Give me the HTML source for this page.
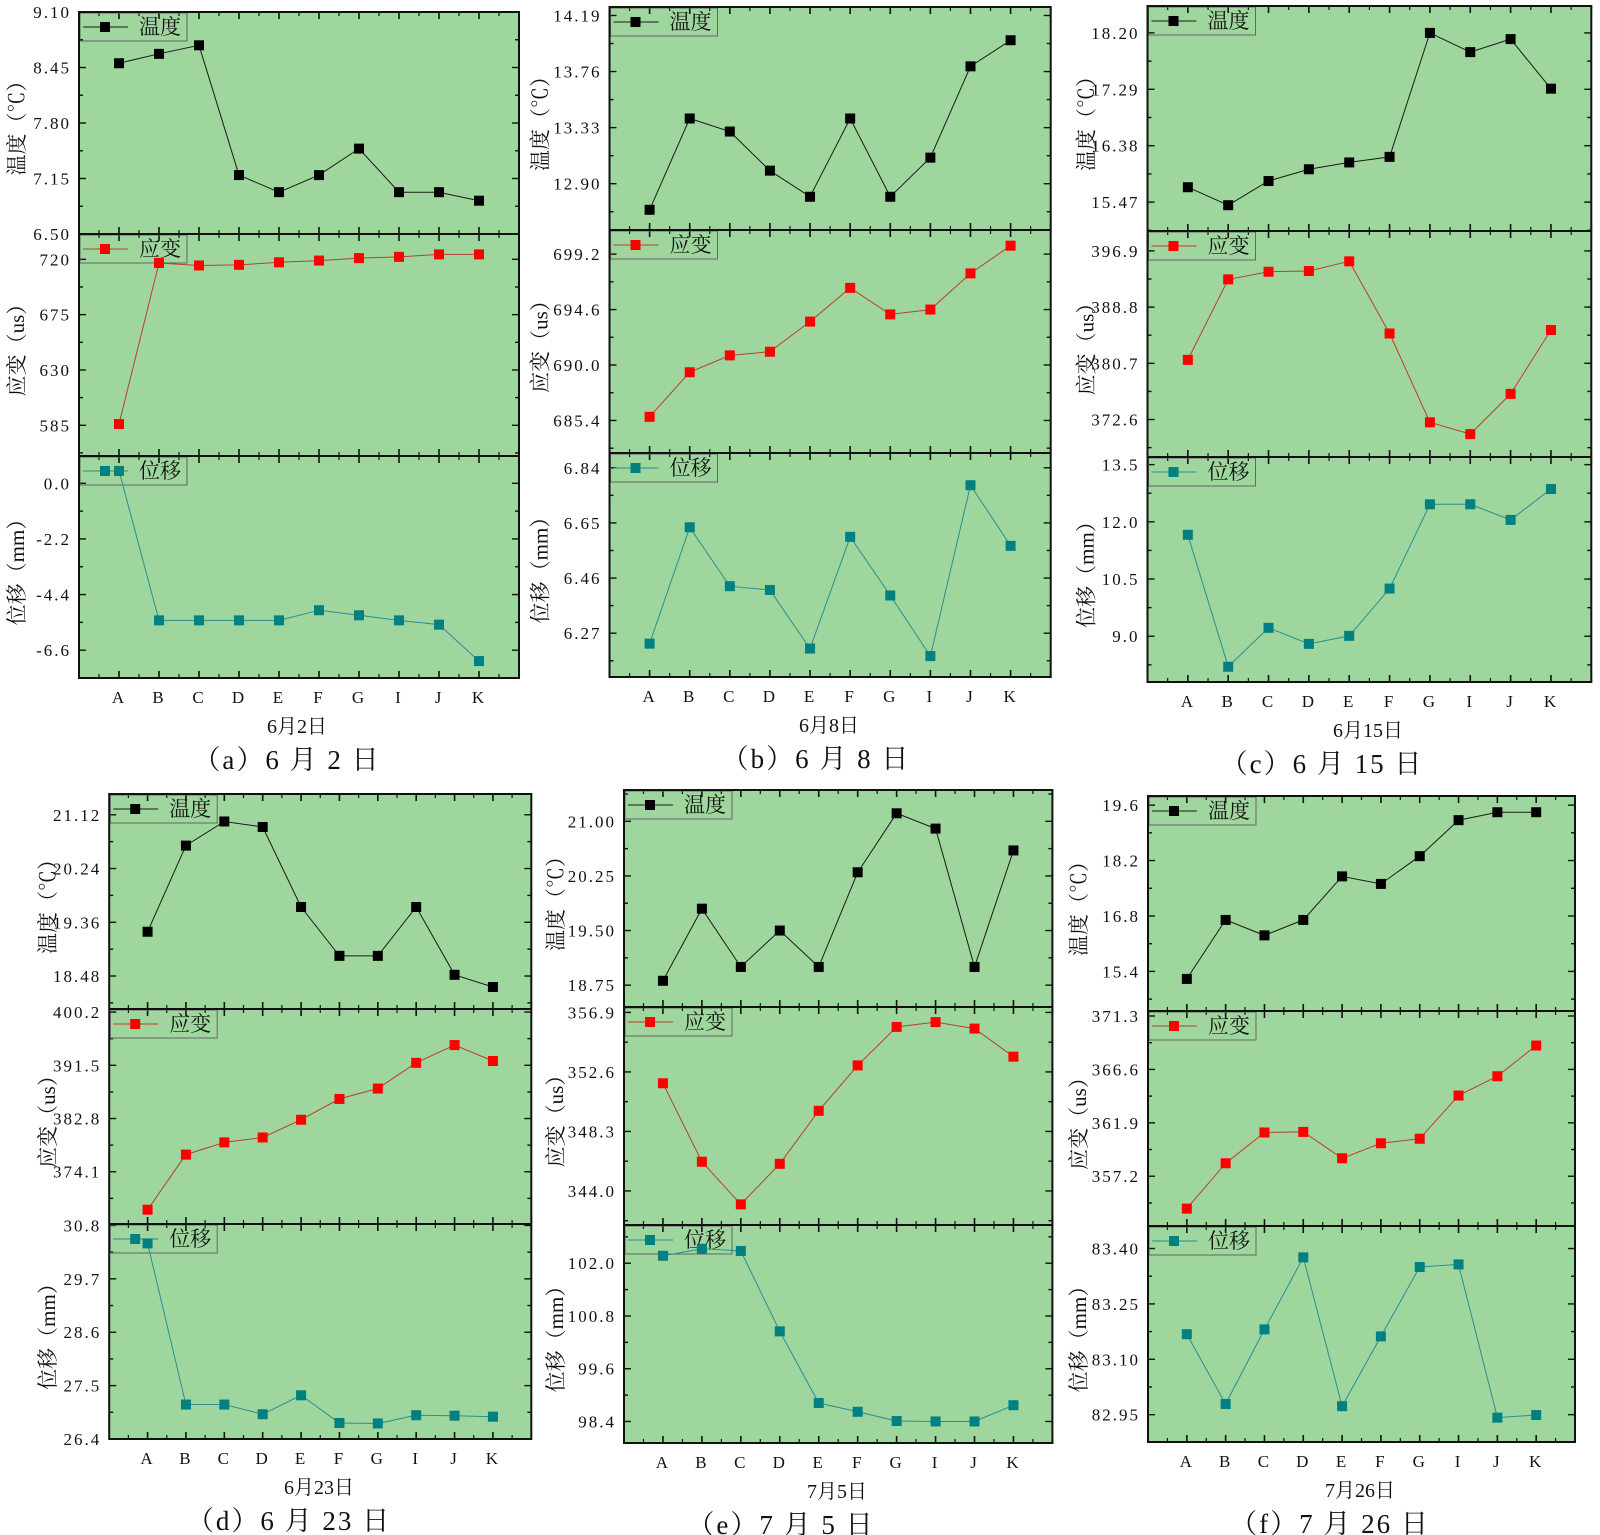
<!DOCTYPE html>
<html><head><meta charset="utf-8"><style>
html,body{margin:0;padding:0;background:#fff;}
svg{display:block;}
.tk{font-family:"Liberation Serif","Noto Serif CJK SC",serif;font-size:17px;fill:#111;letter-spacing:2px;}
.cj{font-family:"Liberation Serif","Noto Serif CJK SC",serif;fill:#111;}
</style></head><body>
<svg id="chart" width="1600" height="1535" viewBox="0 0 1600 1535" xmlns="http://www.w3.org/2000/svg"></svg>
<script>
const categories = ['A','B','C','D','E','F','G','I','J','K'];

const tempA = [8.50,8.61,8.71,7.19,6.99,7.19,7.50,6.99,6.99,6.89];
const strainA = [586,717,715,715.5,717.6,719,721,722,724,724];
const dispA = [0.49,-5.42,-5.42,-5.42,-5.42,-5.02,-5.22,-5.42,-5.59,-7.03];

const tempB = [12.70,13.40,13.30,13.00,12.80,13.40,12.80,13.10,13.80,14.00];
const strainB = [685.7,689.4,690.8,691.1,693.6,696.4,694.2,694.6,697.6,699.9];
const dispB = [6.234,6.635,6.432,6.419,6.217,6.602,6.400,6.191,6.780,6.571];

const tempC = [15.71,15.42,15.81,16.00,16.11,16.20,18.20,17.89,18.10,17.30];
const strainC = [381.2,392.8,393.9,394.0,395.4,385.0,372.2,370.5,376.3,385.5];
const dispC = [11.66,8.20,9.22,8.80,9.01,10.25,12.46,12.46,12.05,12.86];

const tempD = [19.205,20.615,21.01,20.92,19.61,18.81,18.81,19.61,18.50,18.30];
const strainD = [367.9,376.9,378.9,379.7,382.6,386.0,387.7,391.9,394.8,392.2];
const dispD = [30.43,27.11,27.11,26.91,27.30,26.73,26.72,26.89,26.88,26.86];

const tempE = [18.81,19.80,19.00,19.50,19.00,20.30,21.11,20.90,19.00,20.60];
const strainE = [351.78,346.11,343.03,345.96,349.79,353.07,355.85,356.2,355.73,353.7];
const dispE = [102.17,102.33,102.28,100.45,98.82,98.62,98.41,98.40,98.40,98.77];

const tempF = [15.21,16.70,16.31,16.70,17.80,17.61,18.31,19.22,19.42,19.42];
const strainF = [354.35,358.34,361.05,361.1,358.78,360.1,360.5,364.3,366.0,368.7];
const dispF = [83.168,82.979,83.181,83.376,82.973,83.162,83.350,83.357,82.942,82.949];

const tempTicksA = ['9.10','8.45','7.80','7.15','6.50'];
const strainTicksA = ['720','675','630','585'];
const dispTicksA = ['0.0','-2.2','-4.4','-6.6'];
const tempTicksB = ['14.19','13.76','13.33','12.90'];
const strainTicksB = ['699.2','694.6','690.0','685.4'];
const dispTicksB = ['6.84','6.65','6.46','6.27'];
const tempTicksC = ['18.20','17.29','16.38','15.47'];
const strainTicksC = ['396.9','388.8','380.7','372.6'];
const dispTicksC = ['13.5','12.0','10.5','9.0'];
const tempTicksD = ['21.12','20.24','19.36','18.48'];
const strainTicksD = ['400.2','391.5','382.8','374.1'];
const dispTicksD = ['30.8','29.7','28.6','27.5','26.4'];
const tempTicksE = ['21.00','20.25','19.50','18.75'];
const strainTicksE = ['356.9','352.6','348.3','344.0'];
const dispTicksE = ['102.0','100.8','99.6','98.4'];
const tempTicksF = ['19.6','18.2','16.8','15.4'];
const strainTicksF = ['371.3','366.6','361.9','357.2'];
const dispTicksF = ['83.40','83.25','83.10','82.95'];

const panels = [
 {id:'a',left:79,right:519,tops:[12,234,456,678],xl:'6月2日',cap:'（a）6 月 2 日',capx:287,xlx:297,tOff:-62,
  series:[[tempA,tempTicksA,[6.50,9.10]],[strainA,strainTicksA,[560,740.6]],[dispA,dispTicksA,[-7.70,1.08]]]},
 {id:'b',left:609.5,right:1050.7,tops:[7,230,453,677],xl:'6月8日',cap:'（b）6 月 8 日',capx:816,xlx:829,tOff:-69,
  series:[[tempB,tempTicksB,[12.545,14.255]],[strainB,strainTicksB,[682.7,701.2]],[dispB,dispTicksB,[6.119,6.891]]]},
 {id:'c',left:1147.5,right:1591.3,tops:[6,231,457,682],xl:'6月15日',cap:'（c）6 月 15 日',capx:1322,xlx:1368,tOff:-61,
  series:[[tempC,tempTicksC,[15.004,18.634]],[strainC,strainTicksC,[367.2,399.77]],[dispC,dispTicksC,[7.80,13.70]]]},
 {id:'d',left:109.2,right:531.3,tops:[794,1009,1224,1439],xl:'6月23日',cap:'（d）6 月 23 日',capx:289,xlx:319,tOff:-61,
  series:[[tempD,tempTicksD,[17.94,21.46]],[strainD,strainTicksD,[365.56,400.7]],[dispD,dispTicksD,[26.4,30.83]]]},
 {id:'e',left:624,right:1052.4,tops:[790,1007,1225,1443],xl:'7月5日',cap:'（e）7 月 5 日',capx:781,xlx:837,tOff:-68,
  series:[[tempE,tempTicksE,[18.45,21.43]],[strainE,strainTicksE,[341.54,357.29]],[dispE,dispTicksE,[97.91,102.87]]]},
 {id:'f',left:1148,right:1575,tops:[796,1011,1226,1442],xl:'7月26日',cap:'（f）7 月 26 日',capx:1330,xlx:1360,tOff:-69,
  series:[[tempF,tempTicksF,[14.40,19.83]],[strainF,strainTicksF,[352.82,371.74]],[dispF,dispTicksF,[82.876,83.461]]]}
];
const kinds = [
 {name:'温度',title:'温度（℃）',fill:'#000000',line:'#1a1a1a',key:'temp'},
 {name:'应变',title:'应变（us）',fill:'#ff0000',line:'#b8402a',key:'strain'},
 {name:'位移',title:'位移（mm）',fill:'#008080',line:'#2a8f8f',key:'disp'}
];

const svg = document.getElementById('chart');
const NS = 'http://www.w3.org/2000/svg';
function mk(tag, attrs, parent){
  const e = document.createElementNS(NS, tag);
  for (const k in attrs) e.setAttribute(k, attrs[k]);
  (parent||svg).appendChild(e);
  return e;
}

panels.forEach(p => {
  const g = mk('g', {});
  
  
  const w = p.right - p.left;
  const xS = i => p.left + (i + 1) / 11 * w;

  p.series.forEach((s, k) => {
    const vals = s[0], ticks = s[1], mn = s[2][0], mx = s[2][1];
    const top = p.tops[k], bot = p.tops[k+1], h = bot - top;
    const yS = v => top + (mx - v) / (mx - mn) * h;
    const kd = kinds[k];
    const sg = mk('g', {}, g);
    
    
    const bg = mk('rect', {x:p.left, y:top, width:w, height:h, fill:'#9ed69e'}, sg);
    
    

    for (let i = -1; i <= 10; i++) {
      const xm = xS(i);
      if (i >= 0) {
        mk('line', {x1:xm, y1:top, x2:xm, y2:top+7, stroke:'#111', 'stroke-width':1.6}, sg);
        mk('line', {x1:xm, y1:bot, x2:xm, y2:bot-7, stroke:'#111', 'stroke-width':1.6}, sg);
      }
      const xn = xS(i + 0.5);
      if (i < 10) {
        mk('line', {x1:xn, y1:top, x2:xn, y2:top+4, stroke:'#111', 'stroke-width':1.2}, sg);
        mk('line', {x1:xn, y1:bot, x2:xn, y2:bot-4, stroke:'#111', 'stroke-width':1.2}, sg);
      }
    }
    const tv = ticks.map(parseFloat);
    const step = tv[0] - tv[1];
    for (let j = -6; j <= 12; j++) {
      const v = tv[0] - j * step / 2;
      if (v > mx + 1e-9 || v < mn - 1e-9) continue;
      const yy = yS(v);
      const len = (j % 2 === 0) ? 7 : 4;
      mk('line', {x1:p.left, y1:yy, x2:p.left+len, y2:yy, stroke:'#111', 'stroke-width':1.4}, sg);
      mk('line', {x1:p.right, y1:yy, x2:p.right-len, y2:yy, stroke:'#111', 'stroke-width':1.4}, sg);
    }
    ticks.forEach(t => {
      const yy = yS(parseFloat(t));
      const tl = mk('text', {x:p.left-8, y:yy+6, 'text-anchor':'end', class:'tk'}, sg);
      tl.textContent = t;
      
      
    });
    const cy = (top + bot) / 2;
    const yt = mk('text', {x:p.left+p.tOff, y:cy, 'text-anchor':'middle', 'dominant-baseline':'central', class:'cj', 'font-size':21, transform:'rotate(-90 '+(p.left+p.tOff)+' '+cy+')'}, sg);
    yt.textContent = kd.title;
    
    

    const lg = mk('g', {}, sg);
    
    
    mk('rect', {x:p.left+1, y:top+1, width:107, height:28, fill:'none', stroke:'#666', 'stroke-width':1}, lg);
    mk('line', {x1:p.left+4, y1:top+15, x2:p.left+49, y2:top+15, stroke:kd.line, 'stroke-width':1}, lg);
    mk('rect', {x:p.left+21, y:top+10, width:10, height:10, fill:kd.fill}, lg);
    const lt = mk('text', {x:p.left+60, y:top+22, class:'cj', 'font-size':21}, lg);
    lt.textContent = kd.name;

    const pts = vals.map((v, i) => xS(i).toFixed(1) + ',' + yS(v).toFixed(1)).join(' ');
    const pl = mk('polyline', {points:pts, fill:'none', stroke:kd.line, 'stroke-width':1}, sg);
    
    
    vals.forEach((v, i) => {
      const m = mk('rect', {x:xS(i)-5, y:yS(v)-5, width:10, height:10, fill:kd.fill}, sg);
      
      
    });
  });

  mk('rect', {x:p.left, y:p.tops[0], width:w, height:p.tops[3]-p.tops[0], fill:'none', stroke:'#111', 'stroke-width':2}, g);
  mk('line', {x1:p.left, y1:p.tops[1], x2:p.right, y2:p.tops[1], stroke:'#111', 'stroke-width':2}, g);
  mk('line', {x1:p.left, y1:p.tops[2], x2:p.right, y2:p.tops[2], stroke:'#111', 'stroke-width':2}, g);

  const bot = p.tops[3];
  categories.forEach((c, i) => {
    const t = mk('text', {x:xS(i), y:bot+25, 'text-anchor':'middle', class:'tk', 'font-size':16}, g);
    t.textContent = c;
    
    
  });
  const xl = mk('text', {x:p.xlx, y:bot+55, 'text-anchor':'middle', class:'cj', 'font-size':20}, g);
  xl.textContent = p.xl;
  
  
  const cp = mk('text', {x:p.capx, y:bot+91, 'text-anchor':'middle', class:'cj', 'font-size':27, 'letter-spacing':'2'}, g);
  cp.textContent = p.cap;
  
  
});
</script>
</body></html>
